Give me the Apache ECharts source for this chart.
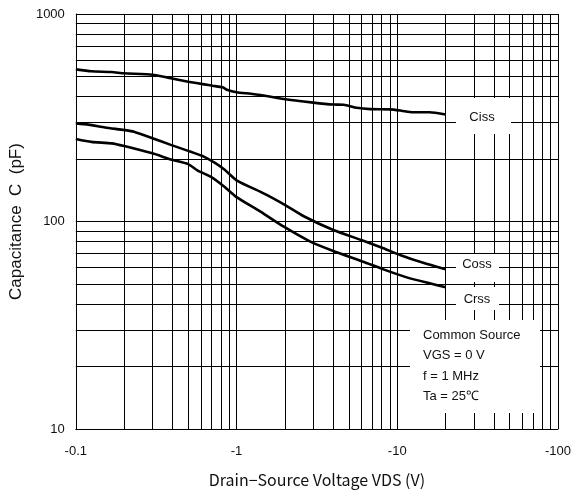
<!DOCTYPE html>
<html>
<head>
<meta charset="utf-8">
<script src="https://cdn.jsdelivr.net/npm/echarts@6/dist/echarts.min.js"></script>
<style>
html,body{margin:0;padding:0;background:#fff;}
#chart{width:574px;height:495px;}
</style>
</head>
<body>
<div id="chart"></div>
<script>
// Drain-Source voltage (V) and capacitance (pF)
var vdsCiss = [-0.1, -0.125, -0.167, -0.2, -0.3, -0.39, -0.5, -0.63, -0.71, -0.82, -0.88, -1.0, -1.23, -1.41, -1.97, -3.0, -4.0, -4.65, -5.6, -6.8, -9.0, -10.6, -12.5, -15.9, -20];
var ciss    = [541, 530, 525, 518, 510, 490, 472, 458, 451, 443, 430, 420, 413, 407, 389, 374, 366, 365, 353, 348, 347, 342, 336, 336, 328];

var vdsCoss = [-0.1, -0.12, -0.152, -0.2, -0.23, -0.3, -0.39, -0.5, -0.63, -0.73, -0.84, -1.0, -1.41, -1.55, -1.97, -2.62, -4.0, -6.15, -8.2, -10.4, -14.5, -20];
var coss    = [297, 293, 284, 276, 271, 252, 234, 219, 205, 192, 178, 158, 139, 134, 121, 106, 91, 80.8, 74.3, 69, 63.3, 58.8];

var vdsCrss = [-0.1, -0.125, -0.167, -0.2, -0.3, -0.39, -0.5, -0.574, -0.694, -0.84, -1.0, -1.41, -1.97, -2.88, -4.0, -6.15, -8.2, -12.0, -15.9, -20];
var crss    = [250, 242, 238, 231, 213, 199, 189, 176, 164, 147, 131, 111.5, 94.4, 80, 72.1, 64, 58.8, 53.2, 50.4, 48.2];

// minor grid values
var xMinor = [0.2,0.3,0.4,0.5,0.6,0.7,0.8,0.9, 2,3,4,5,6,7,8,9, 20,30,40,50,60,70,80,90];
var yMinor = [20,30,40,50,60,70,80,90, 200,300,400,500,600,700,800,900];

var seriesNames = ['Ciss', 'Coss', 'Crss'];
var noteLines = ['Common Source', 'VGS = 0 V', 'f = 1 MHz', 'Ta = 25\u2103'];

function pairs(xs, ys){ return xs.map(function(v,i){ return [Math.abs(v), ys[i]]; }); }

var font = "'Liberation Sans', Arial, sans-serif";
var chart = echarts.init(document.getElementById('chart'), null, {renderer:'canvas'});

var gridMarks = [];
xMinor.forEach(function(v){ gridMarks.push({xAxis: v}); });
yMinor.forEach(function(v){ gridMarks.push({yAxis: v}); });

var curveStyle = {color:'#000', width:2.6};
function curve(name, data){
  return {name:name, type:'line', data:data, symbol:'none', smooth:0.2, z:5,
          lineStyle:curveStyle, itemStyle:{color:'#000'}, animation:false};
}

chart.setOption({
  backgroundColor:'#fff',
  animation:false,
  grid:{left:74, right:15, top:14, bottom:66, containLabel:false},
  xAxis:{
    type:'log', logBase:10, min:0.1, max:100,
    name:'Drain\u2212Source Voltage VDS (V)', nameLocation:'middle', nameGap:51,
    nameTextStyle:{fontFamily:"'Noto Sans CJK JP', sans-serif", fontSize:16, color:'#111', verticalAlign:'middle'},
    axisLine:{show:true, lineStyle:{color:'#000', width:1}},
    axisTick:{show:false},
    axisLabel:{fontFamily:font, fontSize:13, color:'#111', margin:16,
      formatter:function(v){ return '-' + v; }},
    splitLine:{show:true, lineStyle:{color:'#000', width:1}}
  },
  yAxis:{
    type:'log', logBase:10, min:10, max:1000,
    name:'Capacitance  C  (pF)', nameLocation:'middle', nameGap:56, nameRotate:90,
    nameTextStyle:{fontFamily:font, fontSize:17, color:'#111', verticalAlign:'middle'},
    axisLine:{show:true, lineStyle:{color:'#000', width:1}},
    axisTick:{show:false},
    axisLabel:{fontFamily:font, fontSize:13, color:'#111', margin:11,
      formatter:function(v){ return String(v); }},
    splitLine:{show:true, lineStyle:{color:'#000', width:1}}
  },
  series:[
    {type:'line', data:[[0.1,10]], symbol:'none', lineStyle:{opacity:0}, z:1, silent:true,
     markLine:{silent:true, symbol:['none','none'], label:{show:false}, animation:false,
       lineStyle:{color:'#000', width:1, type:'solid'}, emphasis:{disabled:true}, data:gridMarks}},
    curve(seriesNames[0], pairs(vdsCiss, ciss)),
    curve(seriesNames[1], pairs(vdsCoss, coss)),
    curve(seriesNames[2], pairs(vdsCrss, crss))
  ],
  graphic:[
    {type:'rect', z:100, shape:{x:456, y:98, width:55, height:36}, style:{fill:'#fff'}},
    {type:'text', z:101, x:482, y:117, style:{text:seriesNames[0], font:"13px "+font, fill:'#111', align:'center', verticalAlign:'middle'}},
    {type:'rect', z:100, shape:{x:456, y:254, width:43, height:28}, style:{fill:'#fff'}},
    {type:'text', z:101, x:477, y:264, style:{text:seriesNames[1], font:"13px "+font, fill:'#111', align:'center', verticalAlign:'middle'}},
    {type:'rect', z:100, shape:{x:456, y:287, width:43, height:23}, style:{fill:'#fff'}},
    {type:'text', z:101, x:477, y:299, style:{text:seriesNames[2], font:"13px "+font, fill:'#111', align:'center', verticalAlign:'middle'}},
    {type:'rect', z:100, shape:{x:410, y:320, width:130, height:93}, style:{fill:'#fff'}},
    {type:'text', z:101, x:423, y:335, style:{text:noteLines[0], font:"13px "+font, fill:'#111', align:'left', verticalAlign:'middle'}},
    {type:'text', z:101, x:423, y:355.5, style:{text:noteLines[1], font:"13px "+font, fill:'#111', align:'left', verticalAlign:'middle'}},
    {type:'text', z:101, x:423, y:376, style:{text:noteLines[2], font:"13px "+font, fill:'#111', align:'left', verticalAlign:'middle'}},
    {type:'text', z:101, x:423, y:396.5, style:{text:noteLines[3], font:"13px "+font, fill:'#111', align:'left', verticalAlign:'middle'}}
  ]
});
</script>
</body>
</html>
